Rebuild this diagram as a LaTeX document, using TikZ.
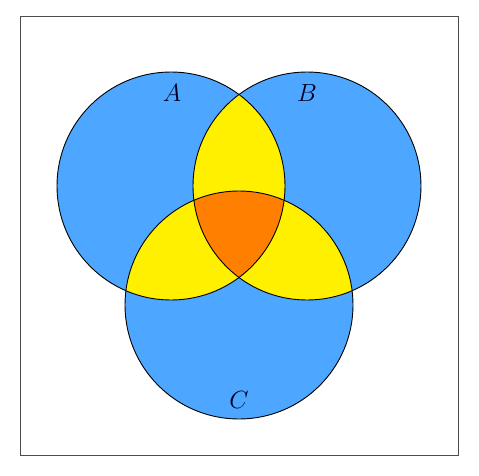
\documentclass[tikz,border=0pt]{standalone}
\begin{document}
\begin{tikzpicture}[x=1pt,y=1pt,
  outline/.style={draw=black,line width=0.9pt},
  lab/.style={font=\fontsize{24}{28}\selectfont, text=black!85!blue}]
\definecolor{setblue}{RGB}{77,166,255}
\definecolor{setyellow}{RGB}{255,240,0}
\definecolor{setorange}{RGB}{255,128,0}
\useasboundingbox (0,0) rectangle (479,475);
\draw[black!70,line width=1pt] (20,20) rectangle (458,458);
\coordinate (A) at (171,289);
\coordinate (B) at (307,289);
\coordinate (C) at (239,170);
\def\r{114}
\fill[setblue] (A) circle (\r);
\fill[setblue] (B) circle (\r);
\fill[setblue] (C) circle (\r);
\begin{scope}
  \clip (A) circle (\r);
  \fill[setyellow] (B) circle (\r);
  \fill[setyellow] (C) circle (\r);
\end{scope}
\begin{scope}
  \clip (B) circle (\r);
  \fill[setyellow] (C) circle (\r);
\end{scope}
\begin{scope}
  \clip (A) circle (\r);
  \clip (B) circle (\r);
  \fill[setorange] (C) circle (\r);
\end{scope}
\draw[outline] (A) circle (\r);
\draw[outline] (B) circle (\r);
\draw[outline] (C) circle (\r);
\node[lab] (la) at (172,382) {$A$};
\node[lab] (lb) at (307,382) {$B$};
\node[lab] (lc) at (239,75) {$C$};
\end{tikzpicture}
\end{document}
